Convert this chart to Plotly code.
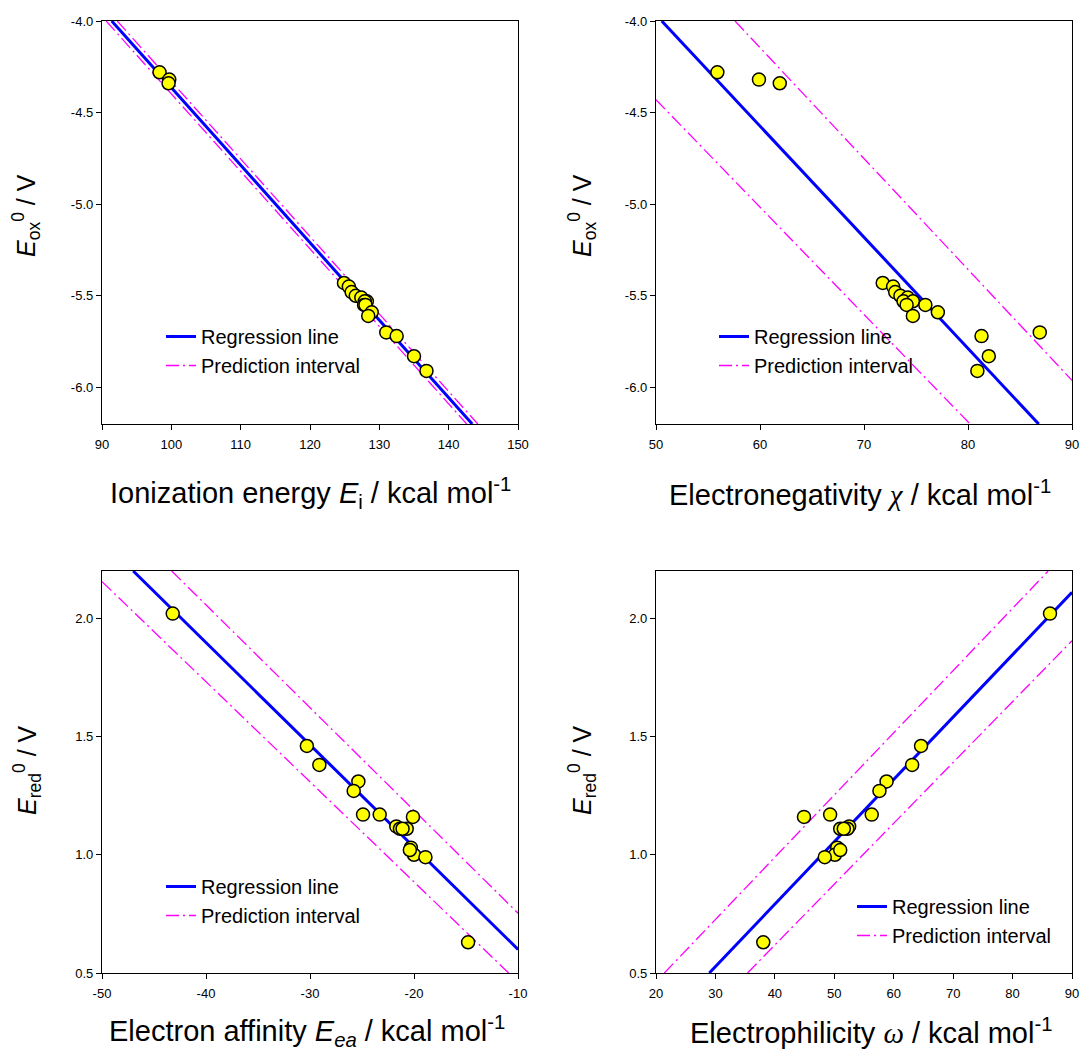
import plotly.graph_objects as go

# ---------------- data ----------------
# top panels: oxidation potential vs ionization energy / electronegativity
E_ox = [-4.28, -4.32, -4.34, -5.43, -5.45, -5.48, -5.50, -5.51, -5.53,
        -5.53, -5.55, -5.55, -5.59, -5.61, -5.70, -5.72, -5.83, -5.91]
E_i = [98.3, 99.7, 99.6, 124.9, 125.6, 126.0, 126.6, 127.4, 128.2,
       127.9, 127.8, 128.0, 128.9, 128.4, 131.0, 132.5, 135.0, 136.8]
chi = [55.9, 59.9, 61.9, 71.8, 72.8, 73.0, 73.5, 74.2, 73.8,
       74.7, 74.1, 75.9, 77.1, 74.7, 86.9, 81.3, 82.0, 80.9]

# bottom panels: reduction potential vs electron affinity / electrophilicity
E_red = [2.02, 1.46, 1.38, 1.31, 1.27, 1.17, 1.17, 1.12, 1.11,
         1.11, 1.11, 1.16, 1.03, 1.00, 1.02, 0.99, 0.63]
E_ea = [-43.2, -30.3, -29.1, -25.35, -25.8, -24.9, -23.3, -21.7, -21.35,
        -20.7, -21.1, -20.1, -20.3, -20.0, -20.4, -18.9, -14.8]
omega = [86.3, 64.6, 63.1, 58.8, 57.6, 56.3, 49.3, 52.5, 52.2,
         51.0, 51.6, 44.9, 50.5, 50.1, 51.0, 48.4, 38.05]

# regression lines and prediction-interval lines (end points)
p1_reg_x, p1_reg_y = [91.4, 143.4], [-4.0, -6.2]
p1_up_x, p1_up_y = [92.2, 144.2], [-4.0, -6.2]
p1_lo_x, p1_lo_y = [90.6, 142.6], [-4.0, -6.2]

p2_reg_x, p2_reg_y = [50.55, 86.8], [-4.0, -6.2]
p2_up_x, p2_up_y = [57.6, 90.0], [-4.0, -5.962]
p2_lo_x, p2_lo_y = [50.0, 80.2], [-4.43, -6.2]

p3_reg_x, p3_reg_y = [-47.0, -10.0], [2.2, 0.60]
p3_up_x, p3_up_y = [-43.3, -10.0], [2.2, 0.753]
p3_lo_x, p3_lo_y = [-50.0, -10.9], [2.155, 0.5]

p4_reg_x, p4_reg_y = [28.97, 90.0], [0.5, 2.11]
p4_up_x, p4_up_y = [21.4, 86.0], [0.5, 2.2]
p4_lo_x, p4_lo_y = [35.4, 90.0], [0.5, 1.905]

# tick values / labels
top_y_ticks = [-4.0, -4.5, -5.0, -5.5, -6.0]
top_y_text = ["-4.0", "-4.5", "-5.0", "-5.5", "-6.0"]
bot_y_ticks = [0.5, 1.0, 1.5, 2.0]
bot_y_text = ["0.5", "1.0", "1.5", "2.0"]
p1_x_ticks = [90, 100, 110, 120, 130, 140, 150]
p2_x_ticks = [50, 60, 70, 80, 90]
p3_x_ticks = [-50, -40, -30, -20, -10]
p3_x_text = ["-50", "-40", "-30", "-20", "-10"]
p4_x_ticks = [20, 30, 40, 50, 60, 70, 80, 90]

# ---------------- figure ----------------
W, H = 1081, 1061
FONT = "Liberation Sans, Arial, sans-serif"
BLUE = "#0000FF"
MAG = "#FF00FF"

fig = go.Figure()

panels = [
    ("x", "y", "legend", (p1_reg_x, p1_reg_y), (p1_up_x, p1_up_y), (p1_lo_x, p1_lo_y), E_i, E_ox),
    ("x2", "y2", "legend2", (p2_reg_x, p2_reg_y), (p2_up_x, p2_up_y), (p2_lo_x, p2_lo_y), chi, E_ox),
    ("x3", "y3", "legend3", (p3_reg_x, p3_reg_y), (p3_up_x, p3_up_y), (p3_lo_x, p3_lo_y), E_ea, E_red),
    ("x4", "y4", "legend4", (p4_reg_x, p4_reg_y), (p4_up_x, p4_up_y), (p4_lo_x, p4_lo_y), omega, E_red),
]

for xa, ya, lg, reg, up, lo, xd, yd in panels:
    fig.add_trace(go.Scatter(
        x=reg[0], y=reg[1], mode="lines", name="Regression line",
        line=dict(color=BLUE, width=3), xaxis=xa, yaxis=ya, legend=lg,
        showlegend=True))
    fig.add_trace(go.Scatter(
        x=up[0] + [None] + lo[0], y=up[1] + [None] + lo[1], mode="lines",
        name="Prediction interval", connectgaps=False,
        line=dict(color=MAG, width=1.3, dash="13px,4px,2px,4px"),
        xaxis=xa, yaxis=ya, legend=lg, showlegend=True))
    fig.add_trace(go.Scatter(
        x=xd, y=yd, mode="markers", showlegend=False,
        marker=dict(size=13, color="#FFFF00", line=dict(color="black", width=1.5)),
        xaxis=xa, yaxis=ya))

# domains (pixel positions measured on the reference)
xl = [102 / W, 518 / W]
xr = [656 / W, 1072 / W]
yt = [(H - 424) / H, (H - 21) / H]
yb = [(H - 973) / H, (H - 571) / H]

axis_common = dict(showline=True, mirror=True, linecolor="black", linewidth=1.3,
                   ticks="outside", ticklen=5, tickwidth=1, tickcolor="black",
                   showgrid=False, zeroline=False, automargin=False,
                   tickfont=dict(family=FONT, size=13, color="black"))
xaxis_extra = dict(ticklabelstandoff=3)

fig.update_layout(
    xaxis=dict(domain=xl, range=[90, 150], tickvals=p1_x_ticks, anchor="y", **xaxis_extra, **axis_common),
    yaxis=dict(domain=yt, range=[-6.2, -4.0], tickvals=top_y_ticks, ticktext=top_y_text, anchor="x", **axis_common),
    xaxis2=dict(domain=xr, range=[50, 90], tickvals=p2_x_ticks, anchor="y2", **xaxis_extra, **axis_common),
    yaxis2=dict(domain=yt, range=[-6.2, -4.0], tickvals=top_y_ticks, ticktext=top_y_text, anchor="x2", **axis_common),
    xaxis3=dict(domain=xl, range=[-50, -10], tickvals=p3_x_ticks, ticktext=p3_x_text, anchor="y3", **xaxis_extra, **axis_common),
    yaxis3=dict(domain=yb, range=[0.5, 2.2], tickvals=bot_y_ticks, ticktext=bot_y_text, anchor="x3", **axis_common),
    xaxis4=dict(domain=xr, range=[20, 90], tickvals=p4_x_ticks, anchor="y4", **xaxis_extra, **axis_common),
    yaxis4=dict(domain=yb, range=[0.5, 2.2], tickvals=bot_y_ticks, ticktext=bot_y_text, anchor="x4", **axis_common),
)

leg_common = dict(bgcolor="rgba(0,0,0,0)", borderwidth=0, xanchor="left", yanchor="top",
                  font=dict(family=FONT, size=20, color="black"), tracegroupgap=0,
                  xref="paper", yref="paper")


def py(p):
    return (H - p) / H


fig.update_layout(
    legend=dict(x=161 / W, y=py(317), **leg_common),
    legend2=dict(x=714 / W, y=py(317), **leg_common),
    legend3=dict(x=161 / W, y=py(867), **leg_common),
    legend4=dict(x=852 / W, y=py(887), **leg_common),
)

serif = "font-family:Liberation Serif"
titles_x = [
    ("Ionization energy <i>E</i><sub>i</sub> / kcal mol<sup>-1</sup>", 310, 493),
    ("Electronegativity <span style='" + serif + "'><i>χ</i></span> / kcal mol<sup>-1</sup>", 860, 493),
    ("Electron affinity <i>E</i><sub><i>ea</i></sub> / kcal mol<sup>-1</sup>", 307, 1031),
    ("Electrophilicity <span style='" + serif + "'><i>ω</i></span> / kcal mol<sup>-1</sup>", 871, 1031),
]
annotations = []
for txt, px_, py_ in titles_x:
    annotations.append(dict(text=txt, x=px_ / W, y=py(py_), xref="paper", yref="paper",
                            xanchor="center", yanchor="middle", showarrow=False,
                            font=dict(family=FONT, size=29, color="black")))
titles_y = [
    ("<i>E</i><sub>ox</sub><sup>0</sup> / V", 26, 216),
    ("<i>E</i><sub>ox</sub><sup>0</sup> / V", 582, 216),
    ("<i>E</i><sub>red</sub><sup>0</sup> / V", 27, 770),
    ("<i>E</i><sub>red</sub><sup>0</sup> / V", 582, 770),
]
for txt, px_, py_ in titles_y:
    annotations.append(dict(text=txt, x=px_ / W, y=py(py_), xref="paper", yref="paper",
                            xanchor="center", yanchor="middle", showarrow=False, textangle=-90,
                            font=dict(family=FONT, size=25, color="black")))

fig.update_layout(
    width=W, height=H,
    margin=dict(l=0, r=0, t=0, b=0, pad=0),
    paper_bgcolor="white", plot_bgcolor="white",
    font=dict(family=FONT, size=13, color="black"),
    annotations=annotations,
)

fig.write_html("out.html", config={"displayModeBar": False},
               post_script="document.body.style.margin='0';")
